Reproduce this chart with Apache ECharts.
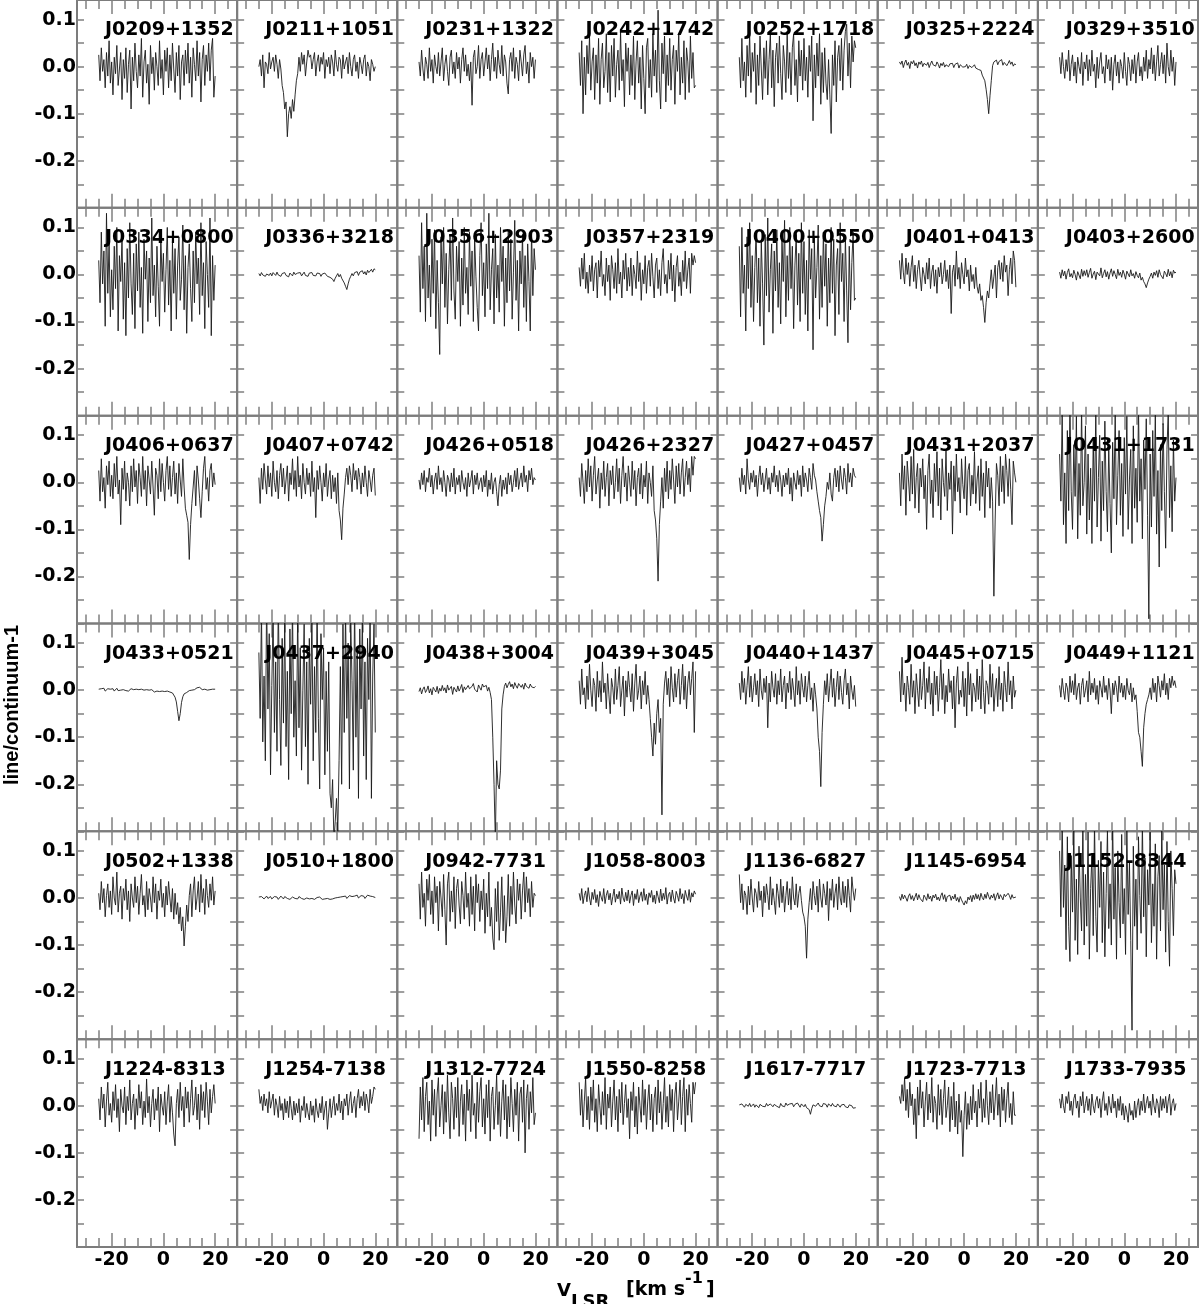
<!DOCTYPE html>
<html><head><meta charset="utf-8">
<script src="https://cdn.jsdelivr.net/npm/echarts@6/dist/echarts.min.js"></script>
<style>html,body{margin:0;padding:0;background:#fff}#c{width:1200px;height:1304px}</style>
</head><body><div id="c"></div>
<script>
// Velocity channels (km/s, LSR)
const velocity = [
-25,-24.5,-24,-23.5,-23,-22.5,-22,-21.5,-21,-20.5,
-20,-19.5,-19,-18.5,-18,-17.5,-17,-16.5,-16,-15.5,
-15,-14.5,-14,-13.5,-13,-12.5,-12,-11.5,-11,-10.5,
-10,-9.5,-9,-8.5,-8,-7.5,-7,-6.5,-6,-5.5,
-5,-4.5,-4,-3.5,-3,-2.5,-2,-1.5,-1,-0.5,
0,0.5,1,1.5,2,2.5,3,3.5,4,4.5,
5,5.5,6,6.5,7,7.5,8,8.5,9,9.5,
10,10.5,11,11.5,12,12.5,13,13.5,14,14.5,
15,15.5,16,16.5,17,17.5,18,18.5,19,19.5,
20];

const sourceNames = ['J0209+1352','J0211+1051','J0231+1322','J0242+1742','J0252+1718','J0325+2224','J0329+3510',
'J0334+0800','J0336+3218','J0356+2903','J0357+2319','J0400+0550','J0401+0413','J0403+2600',
'J0406+0637','J0407+0742','J0426+0518','J0426+2327','J0427+0457','J0431+2037','J0431+1731',
'J0433+0521','J0437+2940','J0438+3004','J0439+3045','J0440+1437','J0445+0715','J0449+1121',
'J0502+1338','J0510+1800','J0942-7731','J1058-8003','J1136-6827','J1145-6954','J1152-8344',
'J1224-8313','J1254-7138','J1312-7724','J1550-8258','J1617-7717','J1723-7713','J1733-7935'];

// line/continuum-1 per channel, in units of 0.001
const J0209p1352 = [25,-30,40,-10,15,-45,30,-20,55,-35,10,-60,20,-15,45,-40,-5,30,-70,15,-25,40,-55,5,35,-90,20,-30,50,-10,-45,25,-20,60,-65,10,35,-35,5,-80,45,-15,20,-50,30,0,-40,55,-25,15,-60,35,-10,40,-45,25,-30,50,-5,-55,30,-20,45,-70,10,25,-40,35,-15,50,-35,20,-65,40,5,-30,55,-20,30,-75,15,45,-40,25,-10,50,-30,35,60,-65,-20];
const J0211p1051 = [0,15,-20,25,-45,10,5,-15,30,-5,10,20,-10,25,5,-25,15,-5,-40,-55,-90,-75,-149,-100,-85,-110,-70,-95,-60,-30,-15,20,-10,30,5,25,-20,10,35,20,25,-5,15,30,-20,10,25,-10,20,5,30,-25,15,0,20,-15,25,10,-20,35,5,-10,20,15,-25,25,-5,10,20,-15,30,0,-20,15,25,-10,10,-25,20,5,-15,15,25,-20,10,0,-30,15,5,-10,0];
const J0231p1322 = [10,-20,35,-5,-30,20,5,-25,40,-10,15,-35,25,0,-15,30,-20,10,40,-30,5,25,-10,-40,20,35,-15,10,-25,30,-5,20,-35,15,40,-10,25,-20,5,-30,10,-82,20,35,-15,0,45,-25,15,30,-20,10,40,-5,25,-30,15,50,-10,20,-25,35,5,-15,45,-20,25,10,-35,-58,15,30,-10,40,-25,20,5,-30,35,10,-20,25,45,-15,10,-35,30,0,20,-25,15];
const J0242p1742 = [30,-40,55,-100,20,-60,45,-15,65,-50,10,40,-70,25,-35,60,-80,15,50,-45,-10,70,-55,30,-75,45,-20,60,-65,5,35,-50,75,-30,15,-85,50,-10,40,-60,25,-40,65,-70,10,55,-35,20,-90,45,-25,-100,40,60,-45,15,-65,70,-20,35,-55,120,-30,-90,50,-15,65,-75,25,-40,60,-50,15,45,-80,35,-10,70,-60,20,-35,55,-70,40,10,-55,65,-25,30,-45,-40];
const J0252p1718 = [20,-45,60,-30,10,-65,45,-20,70,-55,30,-10,50,-80,25,-40,65,-5,-70,40,-25,55,-60,15,70,-45,35,-85,20,50,-35,65,-15,-70,45,10,-55,75,-25,30,-60,40,70,-40,15,-75,55,-20,35,-50,60,-30,20,-65,45,-10,65,-115,25,-45,50,-20,70,-80,30,-55,40,-35,-70,15,-60,-142,25,-40,55,-75,20,45,-30,60,-50,35,75,90,-20,50,-45,65,10,55,40];
const J0325p2224 = [10,5,12,-2,8,14,3,9,-4,11,6,13,2,8,-3,10,5,12,0,7,11,3,9,-2,6,12,4,8,1,10,5,-3,7,2,9,-1,4,8,0,6,3,7,-2,5,1,8,-3,4,6,-1,3,0,5,-4,2,6,-2,1,4,-3,0,-6,-10,-8,-18,-22,-30,-48,-70,-100,-62,-30,2,10,6,14,4,11,8,15,3,9,12,2,7,13,5,10,1,6,4];
const J0329p3510 = [20,-15,30,0,-25,15,-10,35,-30,5,25,-20,10,-35,20,0,-15,30,-40,10,-5,25,-30,15,-20,35,-10,5,-45,20,-25,10,30,-15,0,-35,25,-5,15,-30,20,-50,5,25,-20,10,-35,15,0,-25,30,-10,-40,20,5,-30,15,-15,25,-35,10,30,-20,0,-30,20,-10,35,-25,15,-5,40,-15,25,-30,10,45,-20,5,30,-15,25,-35,50,0,-20,35,-10,20,-40,10];
const J0334p0800 = [30,-60,90,-20,50,-110,130,-40,70,-90,10,-75,60,-30,100,-120,40,-15,80,-95,25,-130,55,-50,110,-20,-85,45,-115,65,-35,90,-70,15,-125,75,-10,50,-100,35,-60,120,-45,20,-90,60,-25,-110,85,-15,45,-80,10,100,-65,30,-120,70,-40,55,-95,20,80,-55,-10,105,-75,40,-125,15,65,-30,-100,50,-60,90,-20,35,-85,110,-45,25,-115,70,0,-70,120,-130,40,-55,20];
const J0336p3218 = [2,-3,4,-1,3,-4,1,5,-2,3,-3,4,0,-2,5,-1,3,-4,2,0,4,-2,1,-5,3,2,-3,5,0,-2,3,-1,4,-3,1,5,-2,2,-4,3,0,4,-2,1,-3,3,-1,2,-4,1,-2,3,-1,-4,0,-6,-3,-10,-15,-8,-4,2,-5,0,-8,-12,-18,-25,-32,-20,-10,-4,2,-3,4,0,6,-2,5,3,8,1,6,-1,9,4,7,11,5,12,10];
const J0356p2903 = [40,-80,110,-30,60,-100,130,-50,20,-90,75,-40,95,-115,30,-60,-170,80,-20,100,-70,45,-105,10,85,-55,120,-35,-95,60,-15,70,-110,35,-65,100,-40,15,-85,90,-25,50,-100,80,-5,-70,-120,40,110,-45,25,-90,65,-30,130,-75,10,55,-105,85,-50,20,-80,100,-15,60,-110,35,-60,90,-35,75,-95,5,115,-55,30,-120,50,-20,85,-70,40,-100,65,-15,-120,95,-45,55,10];
const J0357p2319 = [15,-25,35,-10,45,-30,5,-40,20,-15,40,-35,10,25,-50,30,-5,50,-25,0,-45,35,-15,20,-55,40,10,-30,25,-40,55,-20,5,-50,30,-10,45,-35,15,-25,35,-45,20,0,-30,50,-15,25,-55,10,-20,40,-40,15,30,-25,45,-5,-50,20,35,-30,10,-45,25,55,-20,0,-40,30,-10,45,-35,20,-58,15,40,-25,5,-45,30,-15,50,-30,10,35,-40,45,20,40,25];
const J0400p0550 = [60,-90,100,-40,20,-120,80,-30,110,-70,40,-100,15,90,-60,35,-110,70,-20,-150,85,-45,120,-80,10,65,-125,50,-35,95,-70,25,-105,75,-15,115,-90,40,-55,100,-30,60,-115,20,85,-65,45,-100,110,-40,70,-85,30,-120,95,-10,55,-160,80,-50,15,105,-95,40,-70,90,-25,65,-110,35,-60,100,-40,75,-130,20,55,-85,110,-15,45,-100,80,-35,-145,60,-75,25,90,-55,-50];
const J0401p0413 = [30,-10,45,5,-20,35,0,25,-25,15,40,-15,20,-30,10,30,-5,-35,15,0,-20,25,-10,35,-30,5,20,-25,10,-40,15,-5,25,-20,0,30,-15,10,-30,20,-83,5,20,-25,50,-10,15,-30,25,0,-20,35,-5,10,-35,20,-15,0,-30,15,-25,-40,-20,-55,-45,-70,-102,-60,-35,-50,-20,10,-30,-5,20,-50,15,30,-10,25,-15,40,5,20,-45,10,35,-20,50,30,-27];
const J0403p2600 = [5,-8,10,-3,7,-10,4,12,-5,2,-7,9,0,-12,6,3,-9,11,-4,8,-2,10,-6,4,13,-8,1,7,-11,5,9,-3,14,-7,2,10,-5,6,-10,3,12,-4,8,0,-9,11,-2,5,-6,9,1,-10,7,4,-5,10,-3,2,-8,6,-2,-7,3,-12,-6,-15,-20,-28,-18,-10,-4,3,-8,5,-2,8,-6,10,0,4,-9,7,2,-5,11,-3,6,-7,9,3,5];
const J0406p0637 = [25,-40,50,-20,10,-55,35,-5,45,-30,15,-35,40,-10,55,-25,5,-90,30,-15,45,-40,20,0,-50,35,-20,50,-10,25,-45,40,10,-30,55,-15,25,-50,35,5,-25,45,-10,-70,30,15,-35,50,-20,40,0,-40,25,55,-15,35,-30,10,45,-25,20,-45,40,5,-30,50,-10,-55,-70,-85,-164,-90,-45,-10,25,-50,35,5,-35,-75,-20,30,55,-15,10,-40,25,40,-10,20,-5];
const J0407p0742 = [10,-45,30,-15,40,5,-25,35,-10,20,-30,45,0,-20,25,-35,15,40,-10,30,-25,5,35,-40,20,-5,50,-15,25,-30,55,-10,15,-35,40,0,-25,30,-5,20,-30,45,-20,10,-75,25,-15,35,0,-40,20,-10,40,-30,5,25,-35,15,-20,10,-45,20,-60,-80,-122,-55,-25,10,30,-5,35,15,-20,40,5,25,-15,30,10,-25,20,-10,35,0,-30,25,5,-20,15,30,-28];
const J0426p0518 = [5,-15,20,-5,25,-20,10,0,30,-10,15,-25,5,20,-15,35,-5,10,-20,25,0,-30,15,5,-20,20,-10,30,-25,10,-5,15,-20,25,0,-15,10,-30,20,-10,5,25,-25,15,-5,20,-15,0,10,-20,15,-10,25,-30,5,-15,20,-25,0,10,-20,-50,-5,15,-30,5,-15,10,-25,20,-5,15,-20,0,25,-10,30,-15,5,20,-10,35,0,15,-20,25,5,30,-5,10,5];
const J0426p2327 = [10,-30,40,0,-45,25,-20,50,-10,35,-40,15,55,-25,5,30,-55,20,-15,45,-30,10,40,-50,25,-5,35,-35,0,50,-20,30,-45,15,55,-10,20,-40,35,5,-30,45,-15,25,-50,10,30,-25,40,-35,15,-10,45,-45,20,0,-30,35,-60,-80,-120,-210,-90,-40,10,-55,30,-20,45,-35,25,-15,50,5,-45,35,-10,40,-25,20,50,-30,10,45,-5,30,-20,55,15,55,50];
const J0427p0457 = [10,-20,30,-5,15,-25,50,5,-15,20,0,25,-10,15,-30,10,35,-5,20,-20,5,30,-15,10,-25,20,0,35,-10,15,-20,25,5,-30,15,-10,20,-5,30,-25,10,-40,20,0,-15,25,-5,15,-30,35,-10,20,5,-20,30,10,-15,40,15,5,-20,-40,-60,-75,-125,-90,-50,-30,0,-15,20,-25,-40,10,30,-10,25,-20,35,5,-15,30,10,-25,40,0,20,-10,30,15,10];
const J0431p2037 = [20,-50,60,-15,35,-70,45,5,-40,55,-25,70,-55,10,40,-65,30,-10,50,-35,15,-100,25,60,-45,5,-75,40,-20,65,-50,30,-80,50,0,-30,70,-60,20,-15,45,-110,35,-40,60,-20,10,-65,50,-5,-35,55,-70,25,40,-50,15,-25,65,-45,5,35,-60,50,-30,20,-75,45,-10,30,-55,10,-40,-242,-80,40,15,-50,55,-20,35,-45,60,25,-30,50,-15,-90,45,20,0];
const J0431p1731 = [60,-40,150,-90,20,-130,110,-60,170,-20,-100,80,-30,140,-120,40,-70,160,-50,0,120,-110,60,-80,30,-130,90,-40,150,-95,10,100,-125,45,-60,130,-20,-105,75,-45,-150,85,-35,155,-90,15,110,-70,40,-115,95,-25,140,-100,5,70,-130,120,-55,30,-85,160,-40,50,-120,90,-15,135,-70,-290,60,-95,110,-30,145,-110,25,-180,80,-60,125,-20,-140,70,150,-75,35,-105,90,-40,10];
const J0433p0521 = [2,-1,3,0,4,-2,1,3,-1,2,0,3,-2,1,4,-1,2,0,-3,1,3,-1,2,-2,0,3,-1,1,-3,2,-1,1,-2,2,-1,0,-3,1,-2,0,-3,1,-1,-4,0,-2,1,-3,-1,-2,0,-3,-1,-2,1,-4,-3,-6,-9,-15,-25,-45,-65,-50,-26,-14,-8,-10,-5,-4,-1,2,0,4,1,3,5,2,6,3,1,4,2,5,0,3,1,4,2,3,2];
const J0437p2940 = [80,-60,170,-110,30,-150,200,-40,120,-180,10,160,-90,60,-130,190,-20,-160,110,-70,150,-120,40,-190,130,-50,180,-100,20,-140,170,-80,90,-170,0,140,-120,60,-200,110,-30,160,-150,50,-90,180,-60,-210,120,-20,90,-180,40,-130,60,-220,-250,-190,-320,-280,-230,-300,-150,50,-200,140,-90,170,-60,100,-210,150,20,-170,190,-100,80,-230,130,-40,160,-140,60,-190,110,-20,180,-230,30,140,-90];
const J0438p3004 = [-3,5,-8,2,7,-5,0,9,-6,3,-10,6,1,-4,8,-7,4,-2,10,-1,5,-6,11,0,-3,8,-9,6,2,-4,9,-2,4,12,-5,7,1,-3,10,3,-1,8,14,2,6,-4,11,5,0,13,7,3,10,-2,6,-5,-20,-100,-200,-320,-150,-200,-210,-170,-40,-10,8,15,5,12,18,7,13,3,16,9,4,14,10,6,12,2,15,8,11,4,13,7,10,5,8];
const J0439p3045 = [20,-30,45,-10,5,-40,30,-20,55,0,-35,25,10,-45,40,-15,20,-25,60,-5,15,-40,35,-10,-50,25,5,-30,45,-20,10,50,-35,0,30,-55,20,-15,40,5,-25,35,-45,15,55,-20,0,30,-40,20,-10,40,-30,10,-20,-60,-100,-140,-70,-115,-50,-20,-90,-60,-265,-30,15,40,-10,25,-35,50,5,-25,35,-15,20,45,-30,10,55,-20,30,-40,15,40,-10,25,60,-90,40];
const J0440p1437 = [15,-20,40,-5,25,-30,10,50,-15,30,-25,5,35,-10,20,-35,45,0,-20,25,-5,30,-80,15,-25,40,5,-15,35,-30,20,-10,45,-25,10,30,-40,15,-5,40,-20,25,0,-35,50,-10,20,-30,35,5,-15,30,-25,10,40,-20,5,-45,15,-10,-40,-100,-130,-205,-90,-30,20,-10,35,-25,10,45,-15,25,-35,5,40,-20,30,-5,-30,20,45,-10,15,-40,30,0,-20,10,-35];
const J0445p0715 = [40,-25,70,-10,15,-45,30,5,-30,55,-15,20,-50,35,0,-35,45,-20,10,60,-40,25,-5,50,-30,15,-55,40,-10,30,-45,5,65,-20,35,-50,10,-25,45,-5,20,-40,30,-80,15,50,-30,0,-15,40,-35,25,-55,60,-10,35,-45,15,5,-25,45,-20,30,-40,65,-5,-50,20,10,-30,55,-15,35,-45,0,25,-35,50,-20,15,-45,40,5,-25,60,-10,20,-40,30,-15,0];
const J0449p1121 = [10,-15,25,0,-20,15,5,-25,30,-5,20,-10,35,-20,5,15,-30,10,25,-15,0,20,-25,40,-10,15,-5,25,-20,10,-30,20,5,-15,30,-5,10,-20,25,0,-50,15,-10,20,5,-25,30,-5,15,-15,10,-20,25,0,-10,15,-25,5,-20,-10,-45,-90,-100,-130,-162,-80,-50,-30,-20,-10,5,-20,25,-5,15,-25,30,10,-15,20,0,35,-10,15,-20,25,5,30,10,20,5];
const J0502p1338 = [10,-25,35,-10,20,-40,5,30,-20,15,-35,45,0,-15,55,-30,10,25,-45,20,-5,40,-25,15,-50,30,0,-20,45,-10,25,-35,10,50,-15,5,-40,35,-25,20,0,-30,45,-10,30,-45,15,-5,40,-20,10,-40,25,-15,35,0,-30,20,-45,10,-35,-10,-55,-20,-70,-40,-102,-60,-15,-50,5,30,-40,15,45,-25,0,35,-30,50,-10,20,-35,40,5,-20,30,-5,45,-15,15];
const J0510p1800 = [2,-1,3,0,-2,2,4,-1,1,3,-2,0,3,-1,2,-3,1,4,0,-2,3,1,-1,2,-3,0,2,4,-1,1,-2,3,0,-1,2,-3,1,0,3,-2,1,-1,2,-3,0,1,-2,2,-1,-3,0,-2,-4,-1,-5,-3,-6,-2,-4,0,-3,1,-1,2,-2,3,0,4,-1,2,5,1,3,-1,4,2,6,0,3,5,1,4,-1,3,6,2,4,0,3,2,1];
const J0942m7731 = [30,-45,55,-20,10,-60,40,-5,50,-35,15,-55,45,-10,25,-70,35,0,-40,50,-25,-100,30,55,-50,15,-30,45,-65,20,40,-15,-55,35,5,-45,55,-20,10,-60,45,-35,25,-70,50,-10,30,-50,15,-25,40,-75,10,-40,55,-60,-20,-85,-110,20,-50,35,-90,-30,45,-70,5,-95,-40,50,-60,25,-35,55,-15,-55,40,-5,30,-45,15,55,-30,45,-10,20,-40,35,-20,10,5];
const J1058m8003 = [10,-5,20,-12,5,15,-8,22,0,-15,12,-3,18,-10,7,-18,14,2,-7,20,-12,6,16,-4,10,-15,3,19,-9,8,-2,14,-13,21,0,-8,12,-6,17,-11,5,15,-16,9,-3,18,-10,4,13,-7,20,-5,8,-14,11,1,16,-9,6,-12,15,3,-10,19,-6,10,-3,22,-13,7,12,-8,17,0,-11,14,5,-7,20,-2,9,-12,16,4,-5,18,-9,11,2,15,8];
const J1136m6827 = [50,-10,30,-25,15,5,-35,25,-15,40,0,-30,20,10,-20,35,-5,15,-40,25,-10,30,5,-25,45,-15,20,-5,-35,30,10,-20,40,-10,25,-30,5,35,-15,20,-25,45,0,-15,30,-20,10,25,-5,-30,-40,-60,-128,-45,-10,20,-25,35,5,-15,25,-30,40,0,-20,30,10,-15,35,-48,20,-5,40,-20,10,30,-25,45,0,-15,35,-10,25,-20,40,5,-30,45,15,-5,20];
const J1145m6954 = [3,-5,8,-2,6,0,-7,4,9,-3,5,-6,2,10,-4,7,-1,3,-8,6,1,-5,9,-2,4,-7,6,0,8,-4,2,-6,5,11,-3,7,-8,3,0,6,-5,4,-2,8,-6,1,-9,3,-4,-10,-15,-6,-12,2,-4,5,-8,6,-3,9,-2,7,-5,10,1,-4,8,-1,12,3,-3,6,0,9,-5,4,11,-2,7,2,-4,8,3,-1,10,5,-3,7,0,4,2];
const J1152m8344 = [100,-40,160,-20,70,-110,130,-60,-135,90,-30,150,-90,40,-120,110,0,-70,170,-100,50,-60,140,-130,20,90,-80,160,-40,-115,80,-20,120,-95,55,-125,10,145,-65,30,-100,170,-45,65,-130,100,-10,-85,135,-55,20,-120,150,-35,75,-90,-281,110,-60,40,-110,130,5,-75,160,-40,85,-125,60,-15,140,-95,30,-60,115,-130,45,90,-70,150,-25,70,-115,120,-50,-145,100,20,-80,60,30];
const J1224m8313 = [15,-30,40,-5,25,-45,10,50,-20,5,-35,30,-10,45,-25,15,-55,35,0,-15,40,-40,20,-10,55,-30,5,25,-50,15,-20,45,-5,30,-40,10,-25,57,-15,20,-45,5,35,-30,15,-10,40,-55,25,0,-20,30,-40,10,45,-35,20,-15,-60,-85,5,35,-25,50,-10,20,-45,40,-5,30,-35,15,55,-20,0,40,-30,25,-50,45,-10,30,-25,50,10,-40,35,-15,20,45,5];
const J1254m7138 = [35,5,20,-10,25,0,15,-15,30,-5,10,25,-20,15,0,-25,20,-10,5,-30,15,-15,10,-25,20,-5,-30,10,-20,5,-15,15,-35,0,-10,20,-25,5,-15,-30,10,-20,0,-35,15,-10,-25,5,-15,20,-30,-5,10,-50,-15,15,-25,0,20,-20,5,-10,25,-15,10,-30,15,0,25,-20,10,30,-15,5,20,-25,15,35,-5,20,0,30,-10,25,10,-15,35,5,20,40,35];
const J1312m7724 = [-70,40,-30,60,-55,20,50,-40,10,-75,55,-20,35,-65,25,60,-45,0,45,-60,30,-35,65,-15,-70,50,15,-50,40,-25,60,-65,10,45,-40,25,-75,55,-10,35,-55,65,-20,5,-70,50,-35,30,60,-45,15,-60,45,-25,55,-75,20,40,-50,0,65,-40,30,-65,10,55,-30,45,-70,20,-45,60,5,-55,35,-20,50,-75,25,40,-35,55,-100,15,45,-50,30,-15,60,-40,-15];
const J1550m8258 = [50,-20,35,-45,10,60,-30,20,-50,40,-10,55,-35,15,-55,45,0,-40,30,-20,60,-50,25,-5,40,-45,10,55,-30,20,-55,35,-15,50,-40,5,45,-25,15,-70,30,-10,50,-45,20,-60,40,0,-35,55,-20,35,-50,10,45,-30,25,-55,15,40,-40,55,-15,30,-50,5,60,-35,20,-45,45,-10,35,-55,25,50,-30,10,55,-40,20,60,-55,35,-20,45,5,-35,50,25,50];
const J1617m7717 = [2,-2,4,0,-3,3,1,-1,5,-2,1,4,-3,2,0,-4,3,6,-1,2,-2,5,0,-3,4,1,-2,3,7,-1,2,-4,5,0,3,-2,6,1,-3,4,0,5,-2,3,-1,6,2,-3,4,0,-2,3,-4,-1,-8,-18,-6,2,5,-1,3,6,0,4,-2,5,1,3,-3,4,2,-1,5,0,3,-2,4,1,-3,2,0,3,-2,1,-4,2,-1,0,-5,-3,-4];
const J1723m7713 = [20,5,45,10,60,-10,35,-25,50,0,25,-40,15,-70,40,-20,55,-5,30,-45,10,50,-30,25,-15,60,-35,20,5,-50,45,-20,35,-40,15,55,-25,0,40,-55,20,-30,50,-45,10,-60,25,-35,-10,-108,-20,30,-50,5,-40,20,-30,45,-15,10,-45,35,-5,50,-35,15,-25,55,0,-40,30,-15,45,-30,10,60,-20,25,-45,40,-10,35,-35,15,50,-25,5,-40,30,-20,-20];
const J1733m7935 = [15,-5,25,0,-15,20,5,30,-10,10,-20,15,25,-5,10,-25,20,0,30,-15,5,20,-10,15,-20,25,0,-15,10,20,-5,15,-25,10,30,-10,5,-20,20,0,-15,25,-5,10,-25,15,-10,20,-20,5,-30,0,-15,-35,5,-20,-10,-30,10,-25,0,15,-20,10,-10,25,-15,5,20,-5,10,-20,25,0,-15,15,5,-25,20,-10,15,-5,20,-15,10,25,-20,5,15,-10,5];

const spectra = [J0209p1352,J0211p1051,J0231p1322,J0242p1742,J0252p1718,J0325p2224,J0329p3510,
J0334p0800,J0336p3218,J0356p2903,J0357p2319,J0400p0550,J0401p0413,J0403p2600,
J0406p0637,J0407p0742,J0426p0518,J0426p2327,J0427p0457,J0431p2037,J0431p1731,
J0433p0521,J0437p2940,J0438p3004,J0439p3045,J0440p1437,J0445p0715,J0449p1121,
J0502p1338,J0510p1800,J0942m7731,J1058m8003,J1136m6827,J1145m6954,J1152m8344,
J1224m8313,J1254m7138,J1312m7724,J1550m8258,J1617m7717,J1723m7713,J1733m7935];

const xTickLabels = [-20, 0, 20];
const yTickLabels = [0.1, 0.0, -0.1, -0.2];
const UNIT = 0.001;

const NCOL = 7, NROW = 6;
const PLOT_L = 77, PLOT_R = 1198, PLOT_T = 0, PLOT_B = 1247;
const PW = (PLOT_R - PLOT_L) / NCOL, PH = (PLOT_B - PLOT_T) / NROW;
const XMIN = -33.4, XMAX = 28.5, YMIN = -0.3, YMAX = 0.1416;
const PXU = PW / (XMAX - XMIN);
const FRAME = '#7c7c7c';
const TICKC = '#808080';
const LABEL_FONT = 'DejaVu Sans';

function fmtY(v) {
  const r = Math.round(v * 10) / 10;
  if (Math.abs(v - r) > 1e-6) return '';
  if (!yTickLabels.some(t => Math.abs(t - r) < 1e-6)) return '';
  return (r === 0 ? 0 : r).toFixed(1);
}
function fmtX(v) {
  const r = Math.round(v);
  if (Math.abs(v - r) > 1e-6) return '';
  return xTickLabels.indexOf(r) >= 0 ? String(r) : '';
}

const grid = [], xAxis = [], yAxis = [], series = [], graphic = [];

function hiddenY(gi) {
  return {gridIndex: gi, type: 'value', min: 0, max: 1, show: false};
}

for (let p = 0; p < spectra.length; p++) {
  const r = Math.floor(p / NCOL), c = p % NCOL;
  const L = PLOT_L + c * PW, T = PLOT_T + r * PH;

  // main panel
  const gi = grid.length;
  grid.push({left: L, top: T, width: PW, height: PH, show: true, borderColor: FRAME, borderWidth: 2, backgroundColor: 'rgba(0,0,0,0)'});
  const xi = xAxis.length;
  xAxis.push({gridIndex: gi, type: 'value', min: XMIN, max: XMAX, show: false});
  const yi = yAxis.length;
  ['left', 'right'].forEach(pos => {
    yAxis.push({
      gridIndex: gi, type: 'value', position: pos, min: YMIN, max: YMAX, interval: 0.05,
      axisLine: {show: false, onZero: false}, splitLine: {show: false},
      axisTick: {show: true, inside: true, length: 7, lineStyle: {color: TICKC, width: 1.5}},
      axisLabel: {show: pos === 'left' && c === 0, margin: 1, fontSize: 19, fontWeight: 'bold', fontFamily: LABEL_FONT, color: '#000', formatter: fmtY}
    });
  });
  series.push({
    type: 'line', xAxisIndex: xi, yAxisIndex: yi, showSymbol: false, symbol: 'none', silent: true, animation: false,
    lineStyle: {color: '#1a1a1a', width: 0.9}, z: 3,
    data: velocity.map((v, i) => [v, spectra[p][i] * UNIT])
  });

  // minor x ticks every 5 km/s (-30 .. 25)
  const gm = grid.length;
  grid.push({left: L + (-30 - XMIN) * PXU, top: T, width: 55 * PXU, height: PH, show: false});
  ['bottom', 'top'].forEach(pos => {
    xAxis.push({
      gridIndex: gm, type: 'value', position: pos, min: -30, max: 25, interval: 5,
      axisLine: {show: false, onZero: false}, splitLine: {show: false},
      axisTick: {show: true, inside: true, length: 9, lineStyle: {color: TICKC, width: 1.5}},
      axisLabel: {show: false}
    });
  });
  yAxis.push(hiddenY(gm));

  // major x ticks every 20 km/s (-20 .. 20)
  const gM = grid.length;
  grid.push({left: L + (-20 - XMIN) * PXU, top: T, width: 40 * PXU, height: PH, show: false});
  ['bottom', 'top'].forEach(pos => {
    xAxis.push({
      gridIndex: gM, type: 'value', position: pos, min: -20, max: 20, interval: 20,
      axisLine: {show: false, onZero: false}, splitLine: {show: false},
      axisTick: {show: true, inside: true, length: 14, lineStyle: {color: TICKC, width: 1.5}},
      axisLabel: {show: pos === 'bottom' && r === NROW - 1, margin: 4, fontSize: 19, fontWeight: 'bold', fontFamily: LABEL_FONT, color: '#000', formatter: fmtX}
    });
  });
  yAxis.push(hiddenY(gM));

  // panel title
  graphic.push({
    type: 'text', x: L + 28, y: T + 30.5, z: 20, silent: true,
    style: {text: sourceNames[p], fontSize: 19, fontWeight: 'bold', fontFamily: LABEL_FONT, fill: '#000',
            textAlign: 'left', textVerticalAlign: 'middle', align: 'left', verticalAlign: 'middle'}
  });
}

// axis titles
graphic.push({
  type: 'text', x: 12, y: 705, rotation: Math.PI / 2, z: 20, silent: true,
  style: {text: 'line/continuum-1', fontSize: 20, fontWeight: 'bold', fontFamily: 'Liberation Sans', fill: '#000',
          textAlign: 'center', textVerticalAlign: 'middle', align: 'center', verticalAlign: 'middle'}
});
const xTitleParts = [
  {t: 'V', x: 557, y: 1291, s: 18},
  {t: 'LSR', x: 571, y: 1302, s: 18},
  {t: '[km s', x: 626, y: 1290, s: 19},
  {t: '-1', x: 685, y: 1279, s: 16},
  {t: ']', x: 706, y: 1290, s: 19}
];
xTitleParts.forEach(o => graphic.push({
  type: 'text', x: o.x, y: o.y, z: 20, silent: true,
  style: {text: o.t, fontSize: o.s, fontWeight: 'bold', fontFamily: LABEL_FONT, fill: '#000',
          textAlign: 'left', textVerticalAlign: 'middle', align: 'left', verticalAlign: 'middle'}
}));

const chart = echarts.init(document.getElementById('c'), null, {renderer: 'canvas', width: 1200, height: 1304});
chart.setOption({animation: false, backgroundColor: '#fff', grid, xAxis, yAxis, series, graphic});
</script>
</body></html>
